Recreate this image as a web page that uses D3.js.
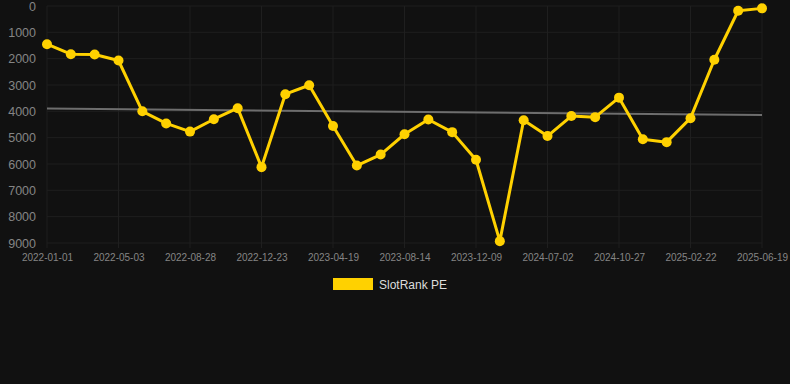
<!DOCTYPE html>
<html>
<head>
<meta charset="utf-8">
<script src="https://cdn.jsdelivr.net/npm/d3@7"></script>
<style>
  html, body { margin: 0; padding: 0; background: #111111; }
  #chart { width: 790px; height: 384px; }
  text { font-family: Arial, "Liberation Sans", sans-serif; }
</style>
</head>
<body>
<div id="chart"></div>
<script>
// dates of each point (only every 3rd one is labelled on the axis)
const dates = [
  '2022-01-01', '2022-02-10', '2022-03-22', '2022-05-03', '2022-06-11',
  '2022-07-20', '2022-08-28', '2022-10-06', '2022-11-14', '2022-12-23',
  '2023-02-01', '2023-03-12', '2023-04-19', '2023-05-28', '2023-07-06',
  '2023-08-14', '2023-09-22', '2023-10-31', '2023-12-09', '2024-02-15',
  '2024-04-24', '2024-07-02', '2024-08-10', '2024-09-18', '2024-10-27',
  '2024-12-05', '2025-01-13', '2025-02-22', '2025-04-02', '2025-05-11',
  '2025-06-19'
]
const rankValues = [
  1450, 1830, 1840, 2070, 4000, 4460, 4770, 4300, 3880, 6120,
  3350, 3010, 4560, 6060, 5640, 4870, 4310, 4790, 5840, 8930,
  4340, 4940, 4180, 4220, 3480, 5060, 5170, 4260, 2040, 180,
  90
]
const trendValues = [3895, 4135]
const yTicks = [0, 1000, 2000, 3000, 4000, 5000, 6000, 7000, 8000, 9000]
const seriesName = 'SlotRank PE'

const margin = { top: 6, left: 47, right: 28, bottom: 141 }
const width = 790 - margin.left - margin.right
const height = 384 - margin.top - margin.bottom

const svg = d3
  .select('#chart')
  .append('svg')
  .attr('width', 790)
  .attr('height', 384)

svg.append('rect').attr('width', 790).attr('height', 384).attr('fill', '#111111')

const g = svg
  .append('g')
  .attr('transform', 'translate(' + margin.left + ',' + margin.top + ')')

const xPositionScale = d3.scalePoint().domain(dates).range([0, width])
const yPositionScale = d3.scaleLinear().domain([0, 9000]).range([0, height])

const labelled = dates.filter((d, i) => i % 3 === 0)

// grid
g.append('g')
  .selectAll('line')
  .data(yTicks)
  .enter()
  .append('line')
  .attr('x1', 0)
  .attr('x2', width)
  .attr('y1', d => yPositionScale(d))
  .attr('y2', d => yPositionScale(d))
  .attr('stroke', '#1f1f1f')
  .attr('stroke-width', 1)

g.append('g')
  .selectAll('line')
  .data(labelled)
  .enter()
  .append('line')
  .attr('x1', d => xPositionScale(d))
  .attr('x2', d => xPositionScale(d))
  .attr('y1', 0)
  .attr('y2', height + 5)
  .attr('stroke', '#1f1f1f')
  .attr('stroke-width', 1)

// axes
const yAxis = d3
  .axisLeft(yPositionScale)
  .tickValues(yTicks)
  .tickFormat(d3.format('d'))
  .tickSize(0)
  .tickPadding(11)
g.append('g')
  .attr('class', 'axis y-axis')
  .call(yAxis)
  .call(sel => sel.select('.domain').remove())
  .selectAll('text')
  .attr('fill', '#858585')
  .attr('font-size', 12.5)

const xAxis = d3.axisBottom(xPositionScale).tickValues(labelled).tickSize(0).tickPadding(11)
g.append('g')
  .attr('class', 'axis x-axis')
  .attr('transform', 'translate(0,' + height + ')')
  .call(xAxis)
  .call(sel => sel.select('.domain').remove())
  .selectAll('text')
  .attr('fill', '#858585')
  .attr('font-size', 10)

// trend line
g.append('line')
  .attr('x1', xPositionScale(dates[0]))
  .attr('x2', xPositionScale(dates[dates.length - 1]))
  .attr('y1', yPositionScale(trendValues[0]))
  .attr('y2', yPositionScale(trendValues[1]))
  .attr('stroke', '#6e6e6e')
  .attr('stroke-width', 2)

// series
const line = d3
  .line()
  .x((d, i) => xPositionScale(dates[i]))
  .y(d => yPositionScale(d))

g.append('path')
  .datum(rankValues)
  .attr('d', line)
  .attr('fill', 'none')
  .attr('stroke', '#FFD100')
  .attr('stroke-width', 3)
  .attr('stroke-linejoin', 'round')

g.append('g')
  .selectAll('circle')
  .data(rankValues)
  .enter()
  .append('circle')
  .attr('cx', (d, i) => xPositionScale(dates[i]))
  .attr('cy', d => yPositionScale(d))
  .attr('r', 5)
  .attr('fill', '#FFD100')

// legend
const legend = svg.append('g').attr('transform', 'translate(333,278)')
legend.append('rect').attr('width', 40).attr('height', 12).attr('fill', '#FFD100')
legend
  .append('text')
  .attr('x', 46)
  .attr('y', 10.5)
  .attr('fill', '#dddddd')
  .attr('font-size', 12)
  .text(seriesName)
</script>
</body>
</html>
